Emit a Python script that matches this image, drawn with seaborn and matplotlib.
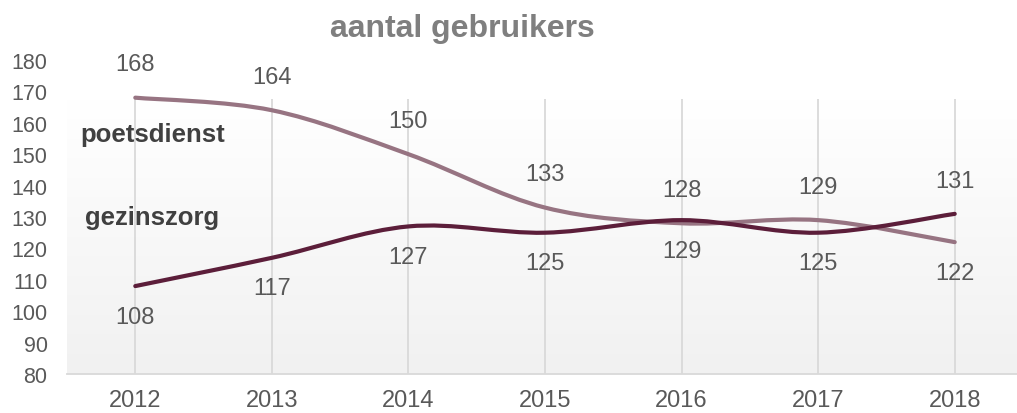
import numpy as np
import pandas as pd
import matplotlib
matplotlib.use("Agg")
import matplotlib.pyplot as plt
from matplotlib.path import Path
from matplotlib.patches import PathPatch
from matplotlib.colors import LinearSegmentedColormap
import seaborn as sns

# ---- data ----
years = ["2012", "2013", "2014", "2015", "2016", "2017", "2018"]
poetsdienst = [168, 164, 150, 133, 128, 129, 122]
gezinszorg = [108, 117, 127, 125, 129, 125, 131]
# label placement per point: +1 above, -1 below
poets_pos = [1, 1, 1, 1, 1, 1, -1]
gezin_pos = [-1, -1, -1, -1, -1, -1, 1]
title = "aantal gebruikers"

sns.set_theme(style="white")
plt.rcParams['font.family'] = ['Liberation Sans', 'DejaVu Sans']

fig = plt.figure(figsize=(10.17, 4.14), dpi=100)
ax = fig.add_axes([67 / 1017, 39 / 414, (1023 - 67) / 1017, (375 - 61) / 414])

df = pd.DataFrame({
    "x": list(range(len(years))) * 2,
    "value": poetsdienst + gezinszorg,
    "serie": ["poetsdienst"] * len(years) + ["gezinszorg"] * len(years),
})
col_p = "#977482"
col_g = "#5C1E3A"

# invisible seaborn line to set up scales
sns.lineplot(data=df, x="x", y="value", hue="serie",
             palette={"poetsdienst": col_p, "gezinszorg": col_g},
             linewidth=0, legend=False, ax=ax)

# gradient plot area background
top_area = 167.5
cmap = LinearSegmentedColormap.from_list("g", ["#f1f1f1", "#ffffff"])
ax.imshow(np.linspace(0, 1, 256).reshape(-1, 1), cmap=cmap, aspect="auto",
          extent=(-0.5, len(years) - 0.5, 80, top_area), origin="lower", zorder=0)
ax.set_xlim(-0.5, len(years) - 0.5)
ax.set_ylim(80, 180)

# vertical gridlines
ax.vlines(range(len(years)), 80, top_area, colors="#d9d9d9", linewidth=1.3, zorder=1)


def smooth_path(xs, ys):
    pts = np.column_stack([xs, ys]).astype(float)
    n = len(pts)
    verts = [tuple(pts[0])]
    codes = [Path.MOVETO]
    for i in range(n - 1):
        p0 = pts[i - 1] if i > 0 else pts[i]
        p1 = pts[i]
        p2 = pts[i + 1]
        p3 = pts[i + 2] if i + 2 < n else pts[i + 1]
        c1 = p1 + (p2 - p0) / 6.0
        c2 = p2 - (p3 - p1) / 6.0
        verts += [tuple(c1), tuple(c2), tuple(p2)]
        codes += [Path.CURVE4] * 3
    return Path(verts, codes)


xs = np.arange(len(years))
for vals, col in [(poetsdienst, col_p), (gezinszorg, col_g)]:
    patch = PathPatch(smooth_path(xs, vals), facecolor="none", edgecolor=col,
                      linewidth=3.0, capstyle="round", joinstyle="round", zorder=3)
    ax.add_patch(patch)

# data labels
for vals, pos in [(poetsdienst, poets_pos), (gezinszorg, gezin_pos)]:
    for i, (v, p) in enumerate(zip(vals, pos)):
        off = 24 if p > 0 else -22
        ax.annotate(str(v), (i, v), xytext=(0, off), textcoords="offset points",
                    ha="center", va="center", fontsize=17, color="#595959", zorder=4)

# series name labels
ax.text(-0.405, 156.4, "poetsdienst", fontsize=18.5, fontweight="bold",
        color="#404040", ha="left", va="center", zorder=4)
ax.text(-0.368, 130.0, "gezinszorg", fontsize=18.5, fontweight="bold",
        color="#404040", ha="left", va="center", zorder=4)

# axes styling
ax.set_xticks(range(len(years)))
ax.set_xticklabels(years)
ax.set_yticks(range(80, 181, 10))
ax.tick_params(axis="x", labelsize=17, colors="#595959", length=0, pad=11)
ax.tick_params(axis="y", labelsize=15.5, colors="#595959", length=0, pad=14)
ax.set_xlabel("")
ax.set_ylabel("")
for s in ["top", "right", "left"]:
    ax.spines[s].set_visible(False)
ax.spines["bottom"].set_color("#d9d9d9")
ax.spines["bottom"].set_linewidth(1.3)
ax.grid(False)
ax.set_facecolor("none")

fig.text(462 / 1017, 1 - 29 / 414, title, fontsize=23, fontweight="bold",
         color="#7f7f7f", ha="center", va="center")

fig.savefig("out.png", dpi=100)
